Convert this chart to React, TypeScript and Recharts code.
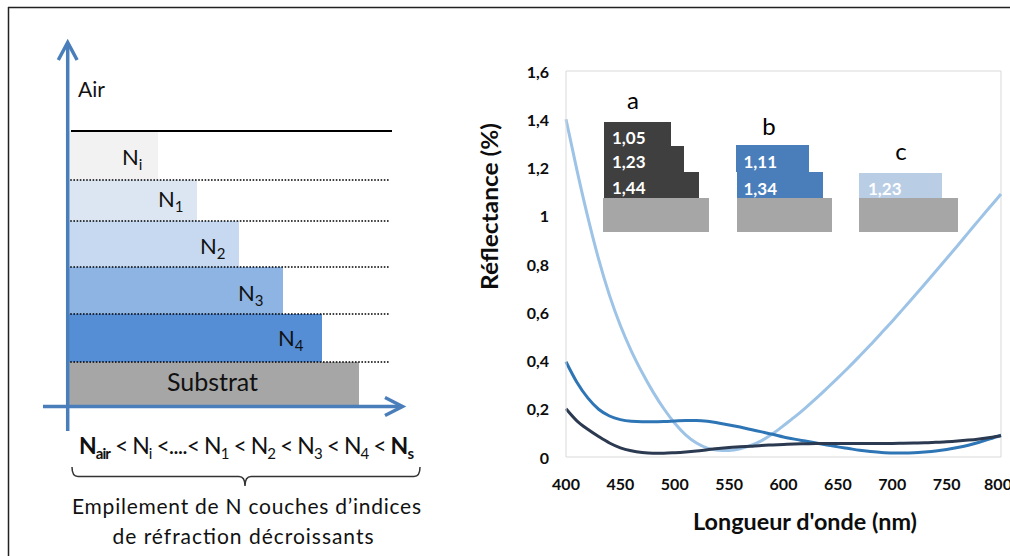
import { LineChart, Line, XAxis, YAxis, ReferenceLine, Label } from 'recharts';

// wavelength (nm) and reflectance (%) of the three antireflective stacks
const WAVELENGTHS = [
    400, 410, 420, 430, 440, 450, 460, 470, 480, 490,
    500, 510, 520, 530, 540, 550, 560, 570, 580, 590,
    600, 610, 620, 630, 640, 650, 660, 670, 680, 690,
    700, 710, 720, 730, 740, 750, 760, 770, 780, 790, 800,
];

// a : 1,05 / 1,23 / 1,44
const REFL_A = [
    0.2, 0.15, 0.115, 0.085, 0.058, 0.038, 0.026, 0.019, 0.016, 0.016,
    0.018, 0.021, 0.025, 0.03, 0.035, 0.039, 0.042, 0.045, 0.048, 0.05,
    0.052, 0.054, 0.055, 0.056, 0.056, 0.056, 0.056, 0.056, 0.056, 0.056,
    0.056, 0.057, 0.058, 0.059, 0.061, 0.063, 0.066, 0.07, 0.075, 0.081, 0.088,
];

// b : 1,11 / 1,34
const REFL_B = [
    0.395, 0.31, 0.245, 0.198, 0.17, 0.155, 0.148, 0.146, 0.146, 0.147,
    0.149, 0.151, 0.151, 0.148, 0.141, 0.133, 0.124, 0.114, 0.104, 0.094,
    0.083, 0.074, 0.066, 0.058, 0.05, 0.042, 0.035, 0.028, 0.023, 0.019,
    0.017, 0.017, 0.018, 0.021, 0.025, 0.031, 0.039, 0.049, 0.061, 0.075, 0.09,
];

// c : 1,23
const REFL_C = [
    1.4, 1.19, 0.995, 0.82, 0.67, 0.545, 0.44, 0.35, 0.27, 0.2,
    0.14, 0.092, 0.058, 0.037, 0.028, 0.027, 0.034, 0.048, 0.068, 0.096,
    0.13, 0.165, 0.203, 0.243, 0.285, 0.328, 0.372, 0.418, 0.465, 0.514,
    0.563, 0.614, 0.665, 0.717, 0.77, 0.823, 0.876, 0.93, 0.984, 1.037, 1.09,
];

const X_TICKS = [400, 450, 500, 550, 600, 650, 700, 750, 800];
const Y_TICKS = [0, 0.2, 0.4, 0.6, 0.8, 1, 1.2, 1.4, 1.6];

// left sketch: layers from top to bottom
const LAYER_NAMES = ['i', '1', '2', '3', '4'];
const LAYER_COLORS = ['#f2f2f2', '#dce6f2', '#c6d9f1', '#8db4e2', '#558ed5'];

// inset stacks
const STACK_A = ['1,05', '1,23', '1,44'];
const STACK_B = ['1,11', '1,34'];
const STACK_C = ['1,23'];

const rows = WAVELENGTHS.map((wl, i) => ({ wl, a: REFL_A[i], b: REFL_B[i], c: REFL_C[i] }));

const FONT = "Lato, 'Open Sans', sans-serif";
const ARROW = '#4a7ebb';
const BORDER = '#d9d9d9';

const fmt = (v: number) => String(v).replace('.', ',');

function XTick({ x, y, payload }: any) {
    return (
        <text x={x} y={y + 26} textAnchor="middle" dominantBaseline="central"
            fontSize={16} fontWeight={700} fill="#0d0d0d" fontFamily={FONT}>
            {fmt(payload.value)}
        </text>
    );
}

function YTick({ x, y, payload }: any) {
    return (
        <text x={x - 17} y={y} textAnchor="end" dominantBaseline="central"
            fontSize={16} fontWeight={700} fill="#0d0d0d" fontFamily={FONT}>
            {fmt(payload.value)}
        </text>
    );
}

function Sketch() {
    // geometry of the left drawing (pixels)
    const tops = [131, 180, 221, 267, 314];
    const bottoms = [180, 221, 267, 314, 362];
    const rights = [158, 197, 239, 283, 322];
    const labelPos = [[122, 165], [158, 207], [200, 254], [238, 301], [278, 346]];

    return (
        <svg width={1010} height={556} style={{ position: 'absolute', left: 0, top: 0, pointerEvents: 'none' }}
            fontFamily={FONT}>
            {/* frame */}
            <line x1={8} y1={7.5} x2={1010} y2={7.5} stroke="#222" strokeWidth={1.5} />
            <line x1={8.5} y1={7} x2={8.5} y2={556} stroke="#222" strokeWidth={1.5} />

            {/* layers */}
            {LAYER_NAMES.map((n, i) => (
                <rect key={n} x={69} y={tops[i]} width={rights[i] - 69} height={bottoms[i] - tops[i]} fill={LAYER_COLORS[i]} />
            ))}
            <rect x={69} y={362} width={290} height={43} fill="#a6a6a6" />

            <line x1={71} y1={131} x2={392} y2={131} stroke="#000" strokeWidth={2} />
            {bottoms.map((b) => (
                <line key={b} x1={67} y1={b} x2={390} y2={b} stroke="#000" strokeWidth={1.6} strokeDasharray="1.6 1.6" />
            ))}

            {LAYER_NAMES.map((n, i) => (
                <text key={n} x={labelPos[i][0]} y={labelPos[i][1]} fontSize={22} fill="#111">
                    N<tspan fontSize={15} dy={5}>{n}</tspan>
                </text>
            ))}
            <text x={212.5} y={391} fontSize={25} textAnchor="middle" fill="#111">Substrat</text>
            <text x={78} y={97} fontSize={21} fill="#111">Air</text>

            {/* axes arrows */}
            <line x1={67.7} y1={431} x2={67.7} y2={43} stroke={ARROW} strokeWidth={3.5} />
            <polyline points="58.3,60 67.7,42.5 77.1,60" fill="none" stroke={ARROW} strokeWidth={3.5} />
            <line x1={43} y1={406.5} x2={402} y2={406.5} stroke={ARROW} strokeWidth={3.5} />
            <polyline points="385,397.5 402.5,406.5 385,415.5" fill="none" stroke={ARROW} strokeWidth={3.5} />

            {/* inequality */}
            <text x={79} y={454} fontSize={23} fill="#111" textLength={335} lengthAdjust="spacing">
                <tspan fontWeight={700}>N</tspan><tspan fontWeight={700} fontSize={15} dy={5}>air</tspan>
                <tspan dy={-5}> &lt; N</tspan><tspan fontSize={15} dy={5}>i</tspan>
                <tspan dy={-5}> &lt;....&lt; N</tspan><tspan fontSize={15} dy={5}>1</tspan>
                <tspan dy={-5}> &lt; N</tspan><tspan fontSize={15} dy={5}>2</tspan>
                <tspan dy={-5}> &lt; N</tspan><tspan fontSize={15} dy={5}>3</tspan>
                <tspan dy={-5}> &lt; N</tspan><tspan fontSize={15} dy={5}>4</tspan>
                <tspan dy={-5}> &lt; </tspan><tspan fontWeight={700}>N</tspan><tspan fontWeight={700} fontSize={15} dy={5}>s</tspan>
            </text>

            {/* brace */}
            <path d="M72,467 Q72,476.5 78,476.5 L239,476.5 Q245,476.5 245,486 Q245,476.5 251,476.5 L414,476.5 Q420,476.5 420,467"
                fill="none" stroke="#333" strokeWidth={1.5} />
            <text x={72} y={514} fontSize={21} fill="#111" textLength={349} lengthAdjust="spacing">
                Empilement de N couches d’indices
            </text>
            <text x={112.5} y={544} fontSize={21} fill="#111" textLength={261} lengthAdjust="spacing">
                de réfraction décroissants
            </text>

            {/* inset a */}
            <rect x={604} y={122} width={67} height={24} fill="#3f3f3f" />
            <rect x={604} y={146} width={80} height={26} fill="#3f3f3f" />
            <rect x={604} y={172} width={95} height={26} fill="#3f3f3f" />
            <rect x={603} y={198} width={106} height={34} fill="#a6a6a6" />
            <text x={633} y={109} fontSize={24} textAnchor="middle" fill="#000">a</text>
            {STACK_A.map((s, i) => (
                <text key={s} x={612} y={[143.5, 168, 193.5][i]} fontSize={17} fontWeight={700} fill="#fff">{s}</text>
            ))}

            {/* inset b */}
            <rect x={736} y={145} width={73} height={27} fill="#4a7ebb" />
            <rect x={737} y={172} width={86} height={26} fill="#4a7ebb" />
            <rect x={737} y={198} width={95} height={34} fill="#a6a6a6" />
            <text x={769} y={135} fontSize={24} textAnchor="middle" fill="#000">b</text>
            {STACK_B.map((s, i) => (
                <text key={s} x={743.5} y={[168, 194.5][i]} fontSize={17} fontWeight={700} fill="#fff">{s}</text>
            ))}

            {/* inset c */}
            <rect x={859} y={173} width={83} height={25} fill="#b9cde5" />
            <rect x={859} y={198} width={99} height={34} fill="#a6a6a6" />
            <text x={901} y={160} fontSize={24} textAnchor="middle" fill="#000">c</text>
            {STACK_C.map((s) => (
                <text key={s} x={868} y={195} fontSize={17} fontWeight={700} fill="#fff">{s}</text>
            ))}
        </svg>
    );
}

export default function App() {
    return (
        <div style={{ position: 'absolute', left: 0, top: 0, width: 1010, height: 556, background: '#fff', fontFamily: FONT, overflow: 'hidden' }}>
            <div style={{ position: 'absolute', left: 470, top: 40 }}>
                <LineChart width={540} height={516} data={rows} margin={{ top: 31, right: 9, bottom: 0, left: 0 }}>
                    <XAxis dataKey="wl" type="number" domain={[400, 800]} ticks={X_TICKS} height={99}
                        axisLine={{ stroke: BORDER }} tickLine={false} tickSize={0} tickMargin={0} tick={<XTick />}>
                        <Label content={(p: any) => {
                            const vb = p.viewBox || { x: 96, y: 417 };
                            return (
                                <text x={vb.x + 239} y={vb.y + 64} textAnchor="middle" dominantBaseline="central"
                                    fontSize={22} fontWeight={700} fill="#0d0d0d" fontFamily={FONT}
                                    textLength={224} lengthAdjust="spacingAndGlyphs">
                                    Longueur d'onde (nm)
                                </text>
                            );
                        }} />
                    </XAxis>
                    <YAxis type="number" domain={[0, 1.6]} ticks={Y_TICKS} width={96}
                        axisLine={{ stroke: BORDER }} tickLine={false} tickSize={0} tickMargin={0} tick={<YTick />}>
                        <Label content={(p: any) => {
                            const vb = p.viewBox || { x: 0, y: 31 };
                            const cx = vb.x + 19;
                            const cy = vb.y + 135.5;
                            return (
                                <text x={cx} y={cy} transform={`rotate(-90 ${cx} ${cy})`} textAnchor="middle" dominantBaseline="central"
                                    fontSize={22} fontWeight={700} fill="#0d0d0d" fontFamily={FONT}
                                    textLength={167} lengthAdjust="spacingAndGlyphs">
                                    Réflectance (%)
                                </text>
                            );
                        }} />
                    </YAxis>
                    <ReferenceLine y={1.6} stroke={BORDER} />
                    <ReferenceLine x={800} stroke={BORDER} />
                    <Line type="monotone" dataKey="c" stroke="#9dc3e6" strokeWidth={3} dot={false} isAnimationActive={false} />
                    <Line type="monotone" dataKey="b" stroke="#2e75b6" strokeWidth={3} dot={false} isAnimationActive={false} />
                    <Line type="monotone" dataKey="a" stroke="#2b3951" strokeWidth={3} dot={false} isAnimationActive={false} />
                </LineChart>
            </div>
            <Sketch />
        </div>
    );
}
